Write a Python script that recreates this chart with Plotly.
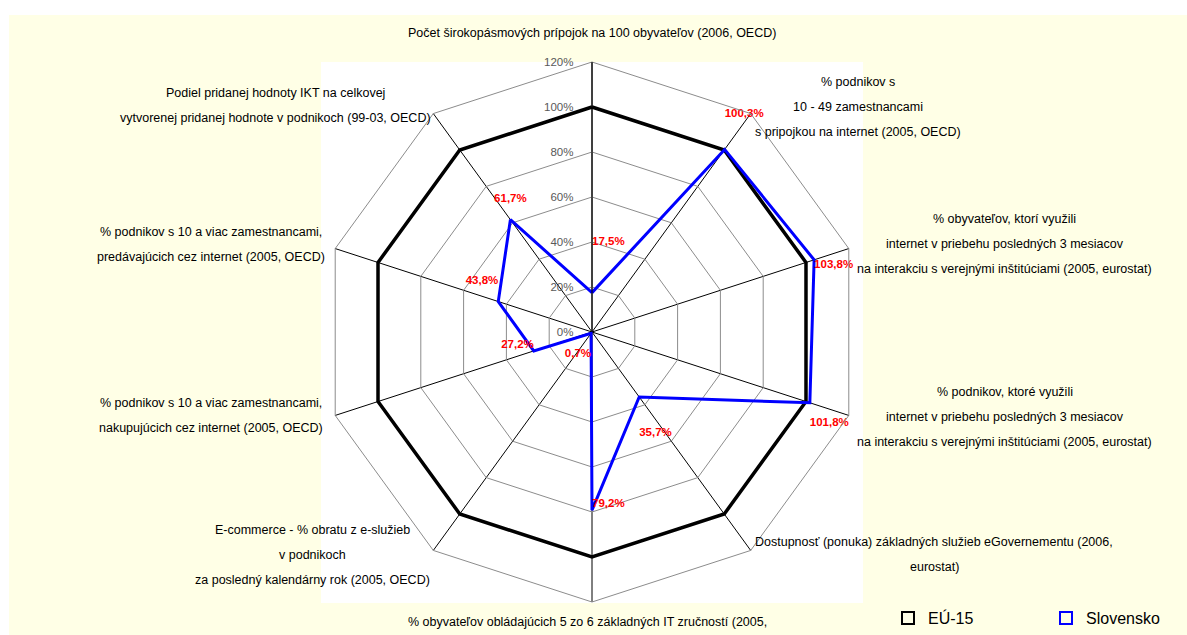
import plotly.graph_objects as go

# ---- data ----
categories = [
    "Počet širokopásmových prípojok na 100 obyvateľov (2006, OECD)",
    "% podnikov s 10 - 49 zamestnancami s pripojkou na internet (2005, OECD)",
    "% obyvateľov, ktorí využili internet v priebehu posledných 3 mesiacov na interakciu s verejnými inštitúciami (2005, eurostat)",
    "% podnikov, ktoré využili internet v priebehu posledných 3 mesiacov na interakciu s verejnými inštitúciami (2005, eurostat)",
    "Dostupnosť (ponuka) základných služieb eGovernementu (2006, eurostat)",
    "% obyvateľov obládajúcich 5 zo 6 základných IT zručností (2005, eurostat)",
    "E-commerce - % obratu z e-služieb v podnikoch za posledný kalendárny rok (2005, OECD)",
    "% podnikov s 10 a viac zamestnancami, nakupujúcich cez internet (2005, OECD)",
    "% podnikov s 10 a viac zamestnancami, predávajúcich cez internet (2005, OECD)",
    "Podiel pridanej hodnoty IKT na celkovej vytvorenej pridanej hodnote v podnikoch (99-03, OECD)",
]
label_lines = [
    ["Počet širokopásmových prípojok na 100 obyvateľov (2006, OECD)"],
    ["% podnikov s", "10 - 49 zamestnancami", "s pripojkou na internet (2005, OECD)"],
    ["% obyvateľov, ktorí využili", "internet v priebehu posledných 3 mesiacov",
     "na interakciu s verejnými inštitúciami (2005, eurostat)"],
    ["% podnikov, ktoré využili", "internet v priebehu posledných 3 mesiacov",
     "na interakciu s verejnými inštitúciami (2005, eurostat)"],
    ["Dostupnosť (ponuka) základných služieb eGovernementu (2006,", "eurostat)"],
    ["% obyvateľov obládajúcich 5 zo 6 základných IT zručností (2005,"],
    ["E-commerce - % obratu z e-služieb", "v podnikoch", "za posledný kalendárny rok (2005, OECD)"],
    ["% podnikov s 10 a viac zamestnancami,", "nakupujúcich cez internet (2005, OECD)"],
    ["% podnikov s 10 a viac zamestnancami,", "predávajúcich cez internet (2005, OECD)"],
    ["Podiel pridanej hodnoty IKT na celkovej", "vytvorenej pridanej hodnote v podnikoch (99-03, OECD)"],
]
eu15 = [100, 100, 100, 100, 100, 100, 100, 100, 100, 100]
slovensko = [17.5, 100.3, 103.8, 101.8, 35.7, 79.2, 0.7, 27.2, 43.8, 61.7]
series_names = ["EÚ-15", "Slovensko"]

# ---- layout helpers (pixels) ----
W, H = 1187, 635
label_pos = [(592, 33), (858, 82), (1005, 219), (1005, 392), (934, 542),
             (587, 622), (312, 530), (211, 403), (211, 232), (275, 93)]
line_step = 25
value_textpos = ["top right", "top right", "bottom right", "bottom right", "bottom right",
                 "top right", "bottom left", "top left", "top left", "top center"]
# blank lines added below (+) or above (-) each value label to push it away from the point
value_pad = [3, 2, 0, -1, -2, 0, -1, 0, 1, 1]

FONT = "Liberation Sans, Arial, sans-serif"

def px(x):
    return x / W

def py(y):
    return 1 - y / H

def fmt(v, pad):
    t = f"{v:.1f}".replace(".", ",") + "%"
    if pad > 0:
        t = t + "<br> " * pad
    elif pad < 0:
        t = " <br>" * (-pad) + t
    return t

closed = lambda a: list(a) + [a[0]]

fig = go.Figure()
fig.add_trace(go.Scatterpolar(
    r=closed(eu15), theta=closed(categories), mode="lines",
    line=dict(color="black", width=3.5), showlegend=False, name=series_names[0]))
fig.add_trace(go.Scatterpolar(
    r=closed(slovensko), theta=closed(categories), mode="lines",
    line=dict(color="#0000FF", width=3), showlegend=False, name=series_names[1]))
fig.add_trace(go.Scatterpolar(
    r=slovensko, theta=categories, mode="text",
    text=[fmt(v, p) for v, p in zip(slovensko, value_pad)],
    textposition=value_textpos,
    textfont=dict(family=FONT, size=11.5, color="#FF0000", weight="bold"),
    showlegend=False, hoverinfo="skip"))
# legend entries (square outline symbols), one legend box each
for nm, col, lg in zip(series_names, ["black", "#0000FF"], ["legend", "legend2"]):
    fig.add_trace(go.Scatterpolar(
        r=[None], theta=[categories[0]], mode="markers", name=nm, legend=lg,
        marker=dict(symbol="square-open", size=11, color=col, line=dict(width=3, color=col))))

annotations = []
for lines, (cx, cy) in zip(label_lines, label_pos):
    for i, t in enumerate(lines):
        annotations.append(dict(
            x=px(cx), y=py(cy + i * line_step), xref="paper", yref="paper",
            text=t, showarrow=False, xanchor="center", yanchor="middle",
            font=dict(family=FONT, size=12.5, color="black")))

legend_style = dict(orientation="h", yanchor="bottom", y=0, xanchor="left",
                    font=dict(family=FONT, size=16, color="black"),
                    bgcolor="rgba(0,0,0,0)", itemsizing="constant")

fig.update_layout(
    width=W, height=H,
    margin=dict(l=0, r=0, t=0, b=0),
    paper_bgcolor="white",
    plot_bgcolor="white",
    shapes=[
        dict(type="rect", xref="paper", yref="paper", x0=px(9), x1=1, y0=0, y1=py(15),
             fillcolor="#FFFFE6", line=dict(width=0), layer="below"),
        dict(type="rect", xref="paper", yref="paper", x0=px(321), x1=px(863), y0=py(603), y1=py(62),
             fillcolor="white", line=dict(width=0), layer="below"),
    ],
    polar=dict(
        domain=dict(x=[px(322), px(862)], y=[py(602), py(62)]),
        bgcolor="rgba(0,0,0,0)",
        gridshape="linear",
        radialaxis=dict(range=[0, 120], dtick=20, tick0=0, ticksuffix="%",
                        angle=90, tickangle=90, side="counterclockwise",
                        showline=True, linecolor="black", linewidth=1,
                        gridcolor="#8C8C8C", gridwidth=1,
                        ticks="outside", ticklen=14, tickcolor="rgba(0,0,0,0)",
                        tickfont=dict(family=FONT, size=11.5, color="#595959")),
        angularaxis=dict(direction="clockwise", rotation=90, showticklabels=False,
                         ticks="", showline=True, linecolor="#8C8C8C", linewidth=1,
                         gridcolor="black", gridwidth=1),
    ),
    legend=dict(x=px(888), **legend_style),
    legend2=dict(x=px(1046), **legend_style),
    annotations=annotations,
    showlegend=True,
)

fig.write_html(
    "out.html",
    config={"displayModeBar": False},
    post_script="document.body.style.margin='0';document.body.style.overflow='hidden';",
)
